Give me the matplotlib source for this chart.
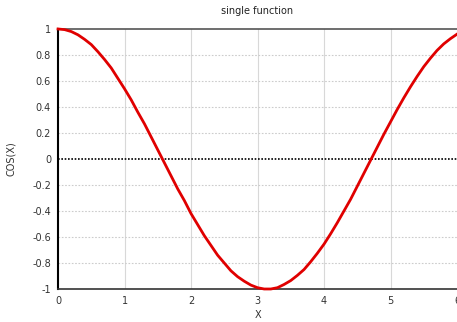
import matplotlib
matplotlib.use('Agg')
import matplotlib.pyplot as plt

# sampled points of the curve
xs = [0.0, 0.1, 0.2, 0.3, 0.4, 0.5, 0.6, 0.7, 0.8, 0.9,
      1.0, 1.1, 1.2, 1.3, 1.4, 1.5, 1.6, 1.7, 1.8, 1.9,
      2.0, 2.1, 2.2, 2.3, 2.4, 2.5, 2.6, 2.7, 2.8, 2.9,
      3.0, 3.1, 3.2, 3.3, 3.4, 3.5, 3.6, 3.7, 3.8, 3.9,
      4.0, 4.1, 4.2, 4.3, 4.4, 4.5, 4.6, 4.7, 4.8, 4.9,
      5.0, 5.1, 5.2, 5.3, 5.4, 5.5, 5.6, 5.7, 5.8, 5.9, 6.0]
ys = [1.00, 0.995, 0.98, 0.955, 0.92, 0.88, 0.825, 0.765, 0.70, 0.62,
      0.54, 0.455, 0.36, 0.27, 0.17, 0.07, -0.03, -0.13, -0.23, -0.32,
      -0.42, -0.505, -0.59, -0.665, -0.74, -0.80, -0.86, -0.905, -0.94, -0.97,
      -0.99, -1.00, -1.00, -0.99, -0.965, -0.935, -0.895, -0.85, -0.79, -0.725,
      -0.655, -0.575, -0.49, -0.40, -0.31, -0.21, -0.11, -0.01, 0.09, 0.19,
      0.285, 0.38, 0.47, 0.555, 0.635, 0.71, 0.775, 0.835, 0.885, 0.925, 0.96]
xticks = [0, 1, 2, 3, 4, 5, 6]
yticks = [-1, -0.8, -0.6, -0.4, -0.2, 0, 0.2, 0.4, 0.6, 0.8, 1]
ytick_labels = ['-1', '-0.8', '-0.6', '-0.4', '-0.2', '0', '0.2', '0.4', '0.6', '0.8', '1']

fig = plt.figure(figsize=(4.57, 3.22), dpi=100)
ax = fig.add_axes([0.127, 0.1025, 0.873, 0.8075])

ax.set_xlim(0, 6)
ax.set_ylim(-1, 1)
ax.set_xticks(xticks)
ax.set_xticklabels([str(t) for t in xticks])
ax.set_yticks(yticks)
ax.set_yticklabels(ytick_labels)
ax.tick_params(length=0, labelsize=7, colors='#333333', pad=5)

# grid: solid verticals, dotted horizontals
for t in xticks[1:-1]:
    ax.axvline(t, color='#d8d8d8', lw=0.8, zorder=0)
for t in yticks[1:-1]:
    if t != 0:
        ax.axhline(t, color='#cccccc', lw=0.8, ls=(0, (1.5, 1.5)), zorder=0)

ax.axhline(0, color='black', lw=1.2, ls=(0, (1, 1)), zorder=1)

ax.spines['right'].set_visible(False)
ax.spines['top'].set_color('#555555')
ax.spines['top'].set_linewidth(1.2)
ax.spines['bottom'].set_color('#333333')
ax.spines['bottom'].set_linewidth(1.2)
ax.spines['left'].set_color('black')
ax.spines['left'].set_linewidth(1.5)
ax.spines['left'].set_linestyle((0, (1, 1)))

ax.plot(xs, ys, color='#e00000', lw=2.0, clip_on=False, zorder=3,
        solid_joinstyle='round')

ax.set_title('single function', fontsize=7, color='#222222', pad=11)
ax.set_xlabel('X', fontsize=7, color='#333333', labelpad=3)
ax.set_ylabel('COS(X)', fontsize=7, color='#333333', labelpad=12)

fig.savefig('out.png', dpi=100)
